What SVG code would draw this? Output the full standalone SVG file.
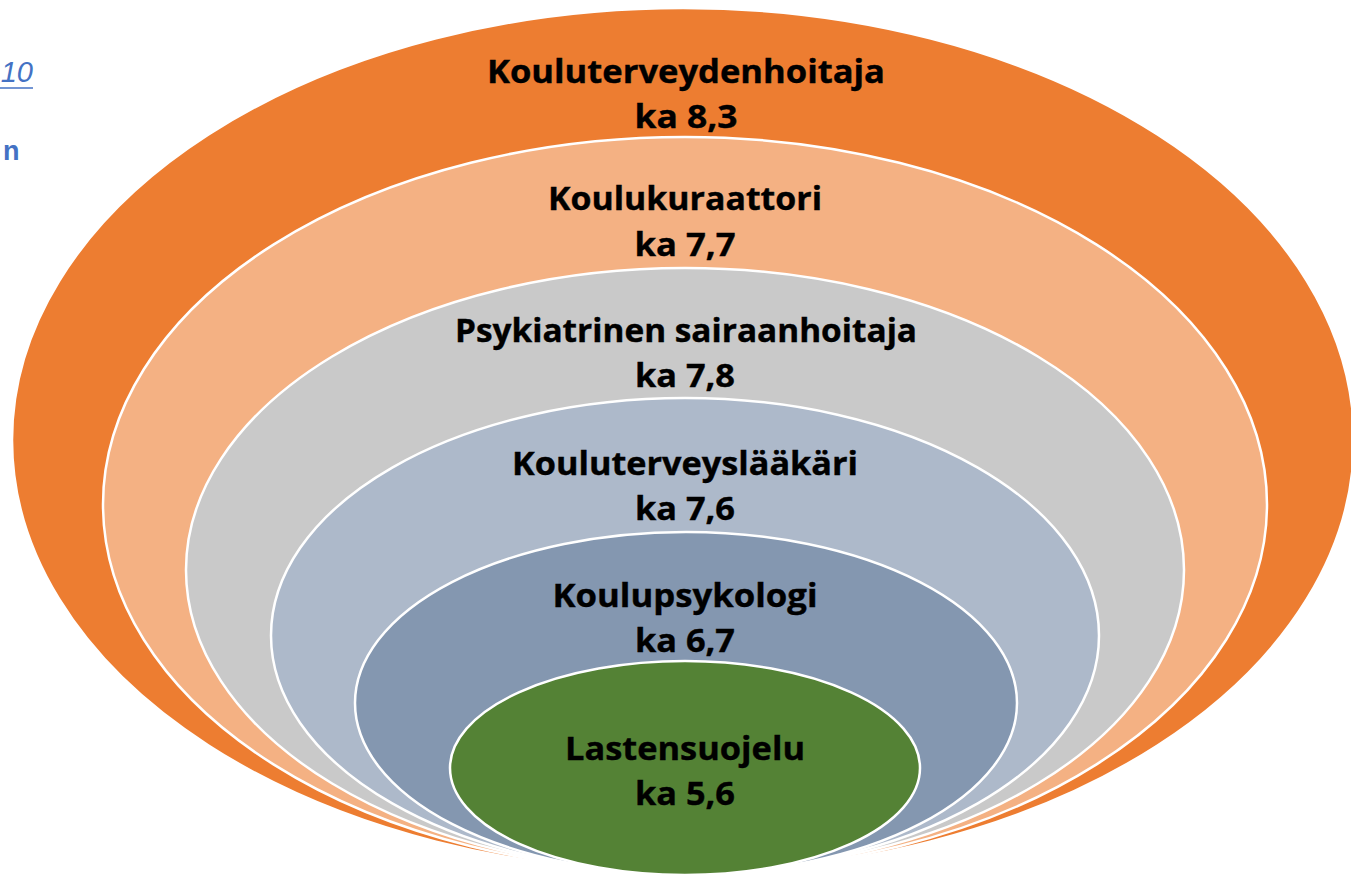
<svg xmlns="http://www.w3.org/2000/svg" width="1351" height="876" viewBox="0 0 1351 876">
<style>
.ring{stroke:#FFFFFF;stroke-width:2.5}
.lbl{font-family:"Open Sans","Liberation Sans",sans-serif;font-weight:700;font-size:33px;fill:#000000;text-anchor:middle;stroke:#000000;stroke-width:0.4}
.side{font-family:"Liberation Sans","Open Sans",sans-serif;fill:#4472C4}
</style>
<rect x="0" y="0" width="1351" height="876" fill="#FFFFFF"/>
<g id="side-text">
<text class="side" x="33" y="82" font-size="29" font-style="italic" text-anchor="end">10</text>
<line x1="0" y1="88" x2="33" y2="88" stroke="#4472C4" stroke-width="1.6"/>
<text class="side" x="3" y="160" font-size="27" font-weight="700">n</text>
</g>
<g id="node-kouluterveydenhoitaja">
<ellipse class="ring" cx="683" cy="440" rx="671" ry="432" fill="#ED7D31" stroke="none"/>
<text class="lbl" x="686" y="83" textLength="398" lengthAdjust="spacingAndGlyphs">Kouluterveydenhoitaja</text>
<text class="lbl" x="686" y="128" textLength="103" lengthAdjust="spacingAndGlyphs">ka 8,3</text>
</g>
<g id="node-koulukuraattori">
<ellipse class="ring" cx="685" cy="504.5" rx="582" ry="367.5" fill="#F4B183"/>
<text class="lbl" x="685" y="210" textLength="274" lengthAdjust="spacingAndGlyphs">Koulukuraattori</text>
<text class="lbl" x="685" y="256" textLength="101" lengthAdjust="spacingAndGlyphs">ka 7,7</text>
</g>
<g id="node-psykiatrinen">
<ellipse class="ring" cx="685" cy="570" rx="499" ry="302" fill="#C9C9C9"/>
<text class="lbl" x="686" y="342" textLength="462" lengthAdjust="spacingAndGlyphs">Psykiatrinen sairaanhoitaja</text>
<text class="lbl" x="685" y="387" textLength="100" lengthAdjust="spacingAndGlyphs">ka 7,8</text>
</g>
<g id="node-kouluterveyslaakari">
<ellipse class="ring" cx="685" cy="635.5" rx="414" ry="237.5" fill="#ADB9CA"/>
<text class="lbl" x="685" y="475" textLength="346" lengthAdjust="spacingAndGlyphs">Kouluterveyslääkäri</text>
<text class="lbl" x="685" y="520" textLength="100" lengthAdjust="spacingAndGlyphs">ka 7,6</text>
</g>
<g id="node-koulupsykologi">
<ellipse class="ring" cx="686" cy="703" rx="331" ry="171" fill="#8497B0"/>
<text class="lbl" x="685" y="607" textLength="265" lengthAdjust="spacingAndGlyphs">Koulupsykologi</text>
<text class="lbl" x="685" y="652" textLength="100" lengthAdjust="spacingAndGlyphs">ka 6,7</text>
</g>
<g id="node-lastensuojelu">
<ellipse class="ring" cx="685" cy="768" rx="235" ry="107" fill="#548235"/>
<text class="lbl" x="685" y="760" textLength="240" lengthAdjust="spacingAndGlyphs">Lastensuojelu</text>
<text class="lbl" x="685" y="805" textLength="100" lengthAdjust="spacingAndGlyphs">ka 5,6</text>
</g>
<g id="connectors"></g>
</svg>
